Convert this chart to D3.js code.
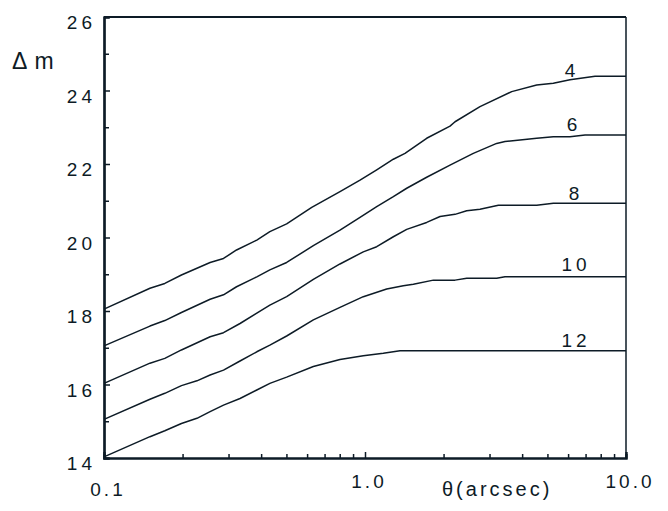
<!DOCTYPE html>
<html><head><meta charset="utf-8">
<script src="https://cdn.jsdelivr.net/npm/d3@7"></script>
<style>
html,body{margin:0;padding:0;background:#fff;}
svg{display:block;}
text{font-family:"Liberation Sans",Arial,sans-serif;fill:#0d1b26;}
</style></head>
<body>
<svg id="chart" width="668" height="511"></svg>
<script>
// ---- data (θ in arcsec, Δm in mag) ----
const curveNames = ["4", "6", "8", "10", "12"];
const theta4 = [0.1,0.150,0.171,0.198,0.255,0.287,0.322,0.385,0.432,0.501,0.625,0.802,0.957,1.109,1.284,1.423,1.723,2.117,2.213,2.758,3.648,4.548,5.267,6.10,7.61,10];
const dm4    = [18.05,18.62,18.75,18.98,19.32,19.43,19.66,19.93,20.16,20.37,20.82,21.25,21.56,21.84,22.13,22.29,22.70,23.03,23.15,23.56,23.97,24.15,24.20,24.29,24.39,24.39];
const theta6 = [0.1,0.150,0.171,0.198,0.255,0.287,0.322,0.385,0.432,0.501,0.634,0.802,0.957,1.109,1.284,1.445,1.723,2.117,2.600,3.195,3.439,3.925,4.548,5.267,6.10,6.97,10];
const dm6    = [17.05,17.59,17.74,17.96,18.32,18.44,18.66,18.93,19.12,19.32,19.78,20.20,20.55,20.84,21.11,21.34,21.64,21.97,22.29,22.56,22.61,22.65,22.70,22.74,22.74,22.79,22.79];
const theta8 = [0.1,0.150,0.171,0.198,0.255,0.287,0.332,0.385,0.432,0.501,0.634,0.802,0.985,1.109,1.284,1.445,1.723,1.939,2.213,2.453,2.758,3.244,4.548,5.267,10];
const dm8    = [16.03,16.58,16.71,16.94,17.30,17.41,17.66,17.94,18.16,18.39,18.86,19.28,19.61,19.75,20.02,20.22,20.41,20.57,20.63,20.73,20.77,20.88,20.88,20.93,20.93];
const theta10 = [0.1,0.150,0.171,0.198,0.227,0.255,0.287,0.332,0.385,0.432,0.501,0.634,0.802,0.985,1.211,1.402,1.532,1.828,2.213,2.453,3.195,3.439,10];
const dm10    = [15.05,15.60,15.76,15.97,16.10,16.26,16.39,16.64,16.89,17.07,17.32,17.76,18.10,18.39,18.60,18.69,18.73,18.84,18.84,18.89,18.89,18.93,18.93];
const theta12 = [0.1,0.150,0.171,0.198,0.227,0.255,0.287,0.332,0.385,0.432,0.501,0.634,0.802,0.985,1.175,1.362,10];
const dm12    = [14.03,14.58,14.74,14.94,15.08,15.26,15.44,15.62,15.85,16.03,16.20,16.49,16.68,16.78,16.85,16.92,16.92];
const xTickLabels = ["0.1", "1.0", "10.0"];
const xTickValues = [0.1, 1, 10];
const yTickLabels = ["14","16","18","20","22","24","26"];
// label anchor θ and Δm positions for curve names
const labelTheta = [6.10, 6.21, 6.32, 6.32, 6.32];
const labelDm    = [24.37, 22.90, 21.02, 19.09, 17.02];

const series = [
  {name: curveNames[0], t: theta4, m: dm4},
  {name: curveNames[1], t: theta6, m: dm6},
  {name: curveNames[2], t: theta8, m: dm8},
  {name: curveNames[3], t: theta10, m: dm10},
  {name: curveNames[4], t: theta12, m: dm12}
];

const ink = "#0d1b26";
const svg = d3.select("#chart");
const L = 104, R = 626, T = 17, B = 458;
const x = d3.scaleLog().domain([0.1, 10]).range([L, R]);
const y = d3.scaleLinear().domain([14, 26]).range([B, T]);

// curves
const line = d3.line().x(d => x(d[0])).y(d => y(d[1]));
series.forEach(s => {
  svg.append("path")
    .attr("d", line(s.t.map((t, i) => [t, s.m[i]])))
    .attr("fill", "none").attr("stroke", ink).attr("stroke-width", 1.5)
    .attr("stroke-linejoin", "round");
});

// frame: top and right
svg.append("line").attr("x1", L).attr("x2", R).attr("y1", T).attr("y2", T)
  .attr("stroke", ink).attr("stroke-width", 2);
svg.append("line").attr("x1", R).attr("x2", R).attr("y1", T).attr("y2", B)
  .attr("stroke", ink).attr("stroke-width", 1.5);

// x axis (ticks inward)
const xMinor = [];
[0.1, 1].forEach(d => { for (let k = 2; k <= 9; k++) xMinor.push(d * k); });
const xAxisMinor = d3.axisBottom(x).tickValues(xMinor).tickSize(-4).tickFormat("");
const xAxisMajor = d3.axisBottom(x).tickValues(xTickValues).tickSize(-6).tickFormat("");
const gx1 = svg.append("g").attr("transform", `translate(0,${B})`).call(xAxisMinor);
const gx2 = svg.append("g").attr("transform", `translate(0,${B})`).call(xAxisMajor);
[gx1, gx2].forEach(g => {
  g.select(".domain").attr("stroke", ink).attr("stroke-width", 2.2);
  g.selectAll(".tick line").attr("stroke", ink).attr("stroke-width", 1.5);
});

// y axis (ticks inward)
const yMinor = d3.range(15, 26, 2);
const yAxisMinor = d3.axisLeft(y).tickValues(yMinor).tickSize(-5).tickFormat("");
const yAxisMajor = d3.axisLeft(y).tickValues(yTickLabels.map(Number)).tickSize(-6).tickFormat("");
const gy1 = svg.append("g").attr("transform", `translate(${L},0)`).call(yAxisMinor);
const gy2 = svg.append("g").attr("transform", `translate(${L},0)`).call(yAxisMajor);
[gy1, gy2].forEach(g => {
  g.select(".domain").attr("stroke", ink).attr("stroke-width", 2.2);
  g.selectAll(".tick line").attr("stroke", ink).attr("stroke-width", 1.5);
});

// y tick labels
svg.append("g").selectAll("text").data(yTickLabels).join("text")
  .attr("x", 92 + 4).attr("y", d => y(+d) + 12)
  .attr("text-anchor", "end")
  .attr("font-size", 19).attr("letter-spacing", 4)
  .text(d => d);

// x tick labels
const xLabelDy = [38, 30, 30];
svg.append("g").selectAll("text").data(xTickLabels).join("text")
  .attr("x", (d, i) => x(xTickValues[i]) + 4)
  .attr("y", (d, i) => B + xLabelDy[i])
  .attr("text-anchor", "middle")
  .attr("font-size", 19).attr("letter-spacing", 3)
  .text(d => d);

// axis titles
svg.append("text").attr("x", 12).attr("y", 69)
  .attr("font-size", 23).attr("letter-spacing", 1).text("Δ m");
svg.append("text").attr("x", 442).attr("y", 496)
  .attr("font-size", 20).attr("letter-spacing", 3).text("θ(arcsec)");

// curve labels
svg.append("g").selectAll("text").data(series).join("text")
  .attr("x", (d, i) => x(labelTheta[i]) + 2)
  .attr("y", (d, i) => y(labelDm[i]))
  .attr("text-anchor", "middle")
  .attr("font-size", 19).attr("letter-spacing", 4)
  .text(d => d.name);
</script>
</body></html>
